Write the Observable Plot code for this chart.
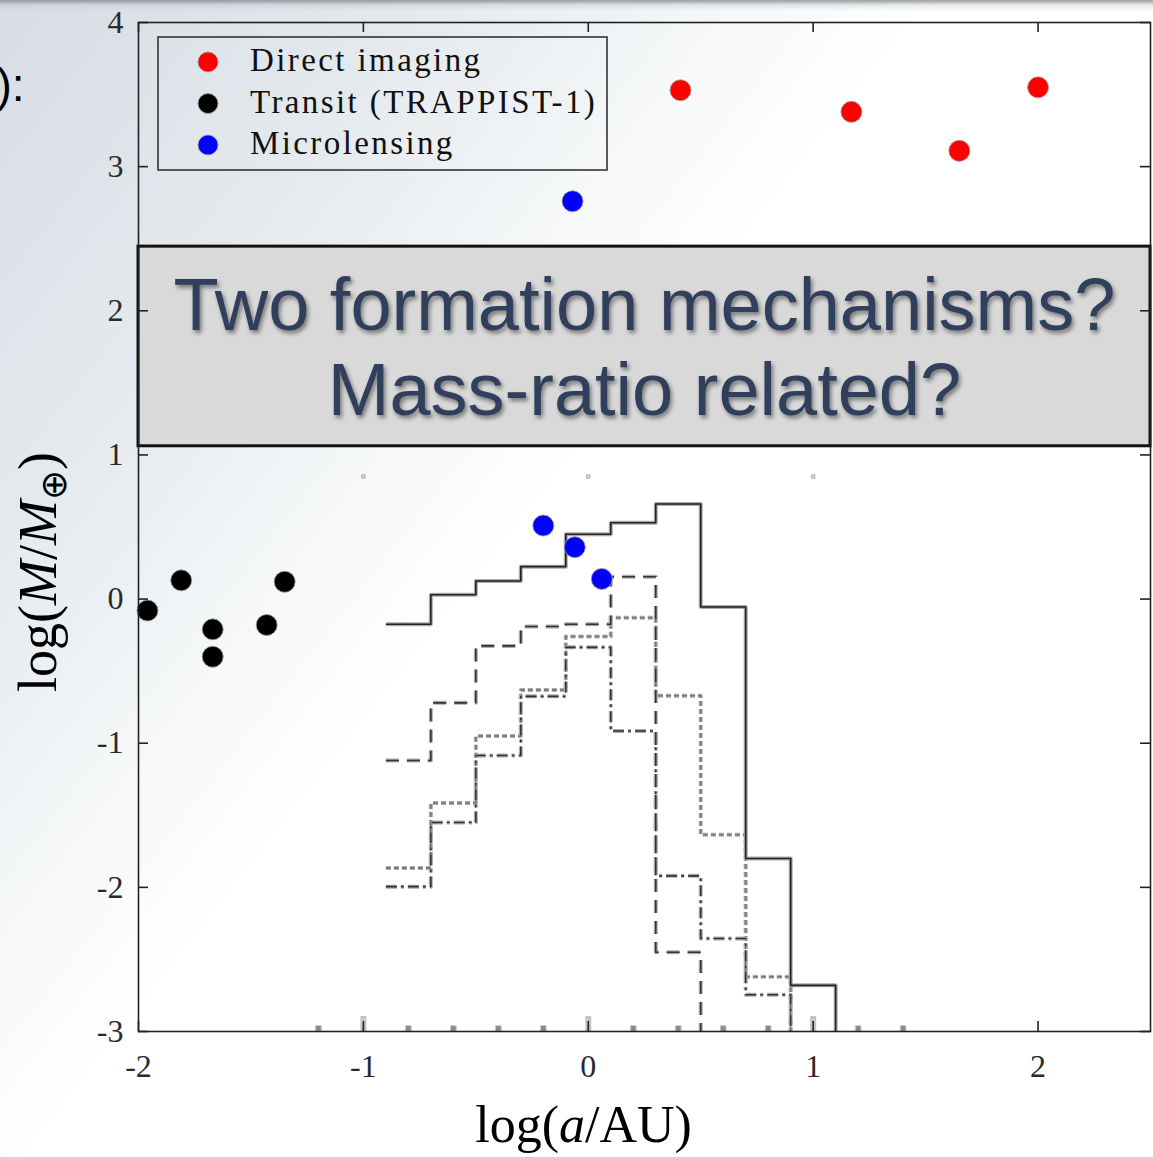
<!DOCTYPE html>
<html>
<head>
<meta charset="utf-8">
<script src="https://cdn.jsdelivr.net/npm/d3@7"></script>
<script src="https://cdn.jsdelivr.net/npm/@observablehq/plot@0.6"></script>
<style>
html, body { margin: 0; padding: 0; width: 1153px; height: 1157px; overflow: hidden; }
body {
  background:
    linear-gradient(to bottom, rgba(130,135,140,0.8) 0px, rgba(190,195,200,0.4) 5px, rgba(255,255,255,0) 11px),
    linear-gradient(128deg, #d6dde3 0%, #e4e9ed 20%, #f6f8f9 36%, #ffffff 46%);
}
#wrap { position: absolute; left: 0; top: 0; }
g[aria-description="callout-text"] text { filter: drop-shadow(2px 3px 2px rgba(0,0,0,0.45)); }
</style>
</head>
<body>
<div id="wrap"></div>
<script>
// ---------------- data ----------------
const xDomain = [-2, 2.5];
const yDomain = [-3, 4];
const xTicks = [-2, -1, 0, 1, 2];
const yTicks = [-3, -2, -1, 0, 1, 2, 3, 4];

// Direct imaging (red)
const directX = [0.41, 1.17, 1.65, 2.0];
const directY = [3.53, 3.38, 3.11, 3.55];
// Transit, TRAPPIST-1 (black)
const transitX = [-1.96, -1.81, -1.67, -1.67, -1.43, -1.35];
const transitY = [-0.08, 0.13, -0.21, -0.40, -0.18, 0.12];
// Microlensing (blue)
const microX = [-0.07, -0.20, -0.06, 0.06];
const microY = [2.76, 0.51, 0.36, 0.14];

// histogram bins (log a) and their levels
const binEdges = [-0.9, -0.7, -0.5, -0.3, -0.1, 0.1, 0.3, 0.5, 0.7, 0.9, 1.1];
const histSolid   = [-0.175, 0.03, 0.125, 0.225, 0.45, 0.53, 0.66, -0.055, -1.80, -2.68];
const histDashed  = [-1.12, -0.72, -0.325, -0.19, -0.175, 0.155, -2.45];
const histDotted  = [-1.865, -1.415, -0.95, -0.63, -0.26, -0.13, -0.67, -1.635, -2.62];
const histDashDot = [-1.995, -1.55, -1.085, -0.675, -0.335, -0.915, -1.92, -2.355, -2.745];

// small residual marks along the bottom axis and near y = 1
const bottomMarkX = [-1.2, -0.8, -0.6, -0.4, -0.2, 0.2, 0.4, 0.6, 0.8, 1.2, 1.4];
const tallMarkX = [-1, 0, 1];
const upperMarkX = [-1, 0, 1];
const upperMarkY = [0.85, 0.85, 0.85];

const legendLabels = ["Direct imaging", "Transit (TRAPPIST-1)", "Microlensing"];
const calloutLines = ["Two formation mechanisms?", "Mass-ratio related?"];
const calloutY = [1.06, 2.445];

// ---------------- layout ----------------
const W = 1153, H = 1157;
const mL = 138, mR = 3, mT = 22, mB = 126;
const plotW = W - mL - mR, plotH = H - mT - mB;
const tickLen = 10;
const colors = {direct: "#ff0000", transit: "#000000", micro: "#0000ff"};

const pts = (xs, ys, k) => xs.map((x, i) => ({x, y: ys[i], k}));
const points = [
  ...pts(directX, directY, "direct"),
  ...pts(transitX, transitY, "transit"),
  ...pts(microX, microY, "micro")
];

function stepRows(vals) {
  const rows = vals.map((v, i) => ({x: binEdges[i], y: v}));
  const n = vals.length;
  rows.push({x: binEdges[n], y: vals[n - 1]});
  rows.push({x: binEdges[n], y: yDomain[0]});
  return rows;
}

function histMarks(vals, dash, core) {
  const rows = stepRows(vals);
  return [
    Plot.line(rows, {x: "x", y: "y", curve: "step-after", stroke: "#ababab", strokeWidth: 4, strokeDasharray: dash, strokeLinecap: "butt"}),
    Plot.line(rows, {x: "x", y: "y", curve: "step-after", stroke: core, strokeWidth: 1.6, strokeDasharray: dash, strokeLinecap: "butt"})
  ];
}

const chart = Plot.plot({
  width: W, height: H,
  marginLeft: mL, marginRight: mR, marginTop: mT, marginBottom: mB,
  style: {background: "transparent", fontFamily: "Liberation Serif", overflow: "visible"},
  x: {domain: xDomain, axis: null},
  y: {domain: yDomain, axis: null},
  marks: [
    // residual marks
    Plot.dot(upperMarkX, {x: d => d, y: (d, i) => upperMarkY[i], symbol: "square", r: 2, fill: "#d0d0d0", stroke: "#aaa", strokeWidth: 0.8}),
    Plot.ruleX(tallMarkX, {x: d => d, insetTop: plotH - 15, stroke: "#c4c4c4", strokeWidth: 6}),
    Plot.dot(bottomMarkX, {x: d => d, y: () => yDomain[0], symbol: "square", r: 3.2, dy: -3, fill: "#8a8a8a", stroke: "#c8c8c8", strokeWidth: 1}),
    // histograms
    ...histMarks(histDotted, "5,3", "#777"),
    ...histMarks(histDashDot, "11,4,3,4", "#333"),
    ...histMarks(histDashed, "13,8", "#333"),
    ...histMarks(histSolid, null, "#222"),
    // points
    Plot.dot(points, {x: "x", y: "y", r: 10.5, fill: d => colors[d.k], stroke: "#9a9a9a", strokeWidth: 0.8}),
    // callout box
    Plot.rect([calloutLines], {x1: () => xDomain[0], x2: () => xDomain[1], y1: () => calloutY[0], y2: () => calloutY[1], fill: "#d9d9d9", stroke: "#111", strokeWidth: 3}),
    Plot.text([calloutLines.join("\n")], {
      x: () => (xDomain[0] + xDomain[1]) / 2, y: () => (calloutY[0] + calloutY[1]) / 2,
      lineAnchor: "bottom", lineHeight: 1.15, dy: 69, textAnchor: "middle",
      fontSize: 74, fontFamily: "Liberation Sans", fill: "#2f3f5c", ariaDescription: "callout-text"
    }),
    // frame and inward ticks
    Plot.frame({stroke: "#222", strokeWidth: 1.6}),
    Plot.ruleX(xTicks, {x: d => d, insetTop: plotH - tickLen, stroke: "#222", strokeWidth: 1.6}),
    Plot.ruleX(xTicks, {x: d => d, insetBottom: plotH - tickLen, stroke: "#222", strokeWidth: 1.6}),
    Plot.ruleY(yTicks, {y: d => d, insetRight: plotW - tickLen, stroke: "#222", strokeWidth: 1.6}),
    Plot.ruleY(yTicks, {y: d => d, insetLeft: plotW - tickLen, stroke: "#222", strokeWidth: 1.6}),
    // tick labels
    Plot.axisX({ticks: xTicks, label: null, tickSize: 0, tickPadding: 23, tickFormat: d => String(d), fontSize: 32, fontFamily: "Liberation Serif", fill: "#2a2a2a"}),
    Plot.axisY({ticks: yTicks, label: null, tickSize: 0, tickPadding: 15, tickFormat: d => String(d), fontSize: 32, fontFamily: "Liberation Serif", fill: "#2a2a2a"}),
    // axis titles
    Plot.text(["log(a/AU)"], {frameAnchor: "bottom", dx: -61, dy: 110, lineAnchor: "bottom", textAnchor: "middle", fontSize: 52, fontFamily: "Liberation Serif", fill: "#000", ariaDescription: "x-title"}),
    Plot.text(["log(M/M⊕)"], {frameAnchor: "left", dx: -83, dy: 45, rotate: -90, lineAnchor: "bottom", textAnchor: "middle", fontSize: 54, fontFamily: "Liberation Serif", fill: "#000", ariaDescription: "y-title"}),
    // slide text fragment at the top left
    Plot.text(["):"], {frameAnchor: "top-left", dx: -114, dy: 78, textAnchor: "end", lineAnchor: "bottom", fontSize: 46, fontFamily: "Liberation Sans", fill: "#000"})
  ]
});

document.getElementById("wrap").appendChild(chart);
const svg = d3.select(chart);

// axis titles with italic symbols
function richTitle(desc, parts) {
  const t = svg.select(`g[aria-description="${desc}"] text`);
  t.text(null);
  for (const p of parts) {
    const s = t.append("tspan").text(p.t);
    if (p.i) s.attr("font-style", "italic");
    if (p.fs) s.attr("font-size", p.fs);
    if (p.dy) s.attr("dy", p.dy);
  }
}
richTitle("x-title", [{t: "log("}, {t: "a", i: true}, {t: "/AU)"}]);
richTitle("y-title", [{t: "log("}, {t: "M", i: true}, {t: "/"}, {t: "M", i: true},
  {t: "⊕", fs: 36, dy: 10}, {t: ")", dy: -10}]);

// legend (inside the plot frame, upper left)
const lg = svg.append("g").attr("transform", `translate(${mL + 20},${mT + 15})`)
  .attr("text-anchor", "start");
lg.append("rect").attr("width", 449).attr("height", 133)
  .attr("fill", "none").attr("stroke", "#333").attr("stroke-width", 1.6);
const legendColors = [colors.direct, colors.transit, colors.micro];
legendLabels.forEach((lab, i) => {
  const cy = 25 + i * 41.5;
  lg.append("circle").attr("cx", 50).attr("cy", cy).attr("r", 10)
    .attr("fill", legendColors[i]).attr("stroke", "#9a9a9a").attr("stroke-width", 0.8);
  lg.append("text").attr("x", 92).attr("y", cy + 9).attr("text-anchor", "start")
    .attr("font-family", "Liberation Serif").attr("font-size", 33)
    .attr("letter-spacing", "2.4px").attr("fill", "#111").text(lab);
});
</script>
</body>
</html>
